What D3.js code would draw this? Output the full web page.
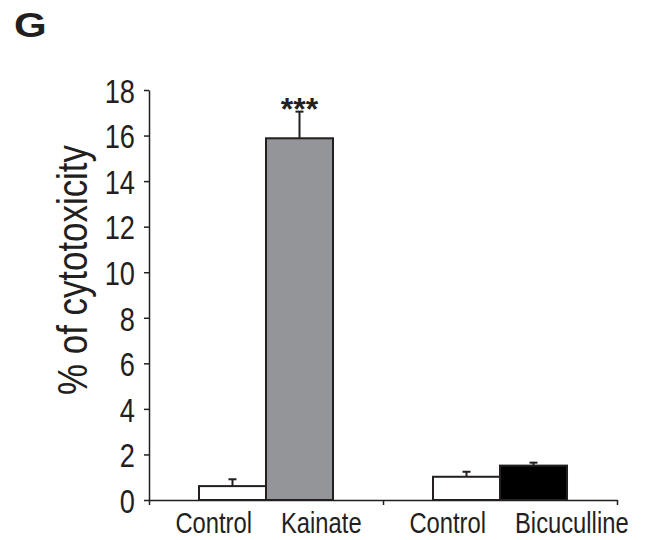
<!DOCTYPE html>
<meta charset="utf-8">
<title>Cytotoxicity</title>
<script src="https://d3js.org/d3.v7.min.js"></script>
<style>
  body { margin: 0; background: #fff; }
  svg text { fill: #231f20; font-family: "Liberation Sans", Arial, sans-serif; }
  .axis path, .axis line { stroke: #231f20; stroke-width: 1.5px; }
</style>
<body>
<div id="chart"></div>
<script>
// data
var groups = ["Kainate", "Bicuculline"];
var conditions = ["Control", "Kainate", "Control", "Bicuculline"];
var condGroup = ["Kainate", "Kainate", "Bicuculline", "Bicuculline"];
var means = [0.61, 15.88, 1.02, 1.51];
var sems = [0.30, 1.17, 0.22, 0.13];
var signif = ["", "***", "", ""];
var yTicks = [0, 2, 4, 6, 8, 10, 12, 14, 16, 18];

// no narrow face installed, so squeeze text horizontally
var narrow = 0.8;

var margin = {top: 90, right: 33, bottom: 40, left: 149},
    width = 650 - margin.left - margin.right,
    height = 540 - margin.top - margin.bottom;

var svg = d3.select("#chart").append("svg")
    .attr("width", 650)
    .attr("height", 540);

// panel letter
svg.append("text")
  .attr("transform", "translate(14,37) scale(1.2,1)")
  .style("font-weight", "bold")
  .style("font-size", "35px")
  .text("G");

var g = svg.append("g")
  .attr("transform", "translate(" + margin.left + "," + margin.top + ")");

var y = d3.scaleLinear().domain([0, 18]).range([height, 0]);

var x0 = d3.scaleBand().domain(groups).range([0, width]).padding(0);
var x1 = d3.scaleBand().domain([0, 1]).range([0, x0.bandwidth()])
  .paddingInner(0).paddingOuter(0.746);

var fillOf = d3.scaleOrdinal()
  .domain(["Control", "Kainate", "Bicuculline"])
  .range(["#ffffff", "#939598", "#000000"]);

var rows = conditions.map(function(c, i) {
  return {name: c, group: condGroup[i], slot: i % 2, mean: means[i], sem: sems[i], sig: signif[i]};
});

function barX(d) { return x0(d.group) + x1(d.slot); }
function barMid(d) { return barX(d) + x1.bandwidth() / 2; }

// y axis
var yAxis = g.append("g").attr("class", "axis")
  .call(d3.axisLeft(y).tickValues(yTicks).tickSize(5).tickSizeOuter(0).tickPadding(9));
yAxis.selectAll("text")
  .style("font-size", "34px")
  .attr("fill", null)
  .attr("dy", "0.36em")
  .attr("x", -14 / narrow)
  .attr("transform", "scale(" + narrow + ",1)");

// x axis: ticks at group boundaries
var xl = d3.scaleLinear().domain([0, groups.length]).range([0, width]);
g.append("g").attr("class", "axis")
  .attr("transform", "translate(0," + height + ")")
  .call(d3.axisBottom(xl).tickValues(d3.range(groups.length + 1))
    .tickFormat("").tickSize(5).tickSizeOuter(0));

// bars
g.selectAll("rect.bar")
  .data(rows)
  .enter().append("rect")
    .attr("class", "bar")
    .attr("x", barX)
    .attr("y", function(d) { return y(d.mean); })
    .attr("width", x1.bandwidth())
    .attr("height", function(d) { return height - y(d.mean); })
    .attr("fill", function(d) { return fillOf(d.name); })
    .attr("stroke", "#231f20")
    .attr("stroke-width", 2);

// error bars (upper only)
var err = g.selectAll("g.err")
  .data(rows)
  .enter().append("g").attr("class", "err")
  .attr("stroke", "#231f20")
  .attr("stroke-width", 2);

err.append("line")
  .attr("x1", barMid).attr("x2", barMid)
  .attr("y1", function(d) { return y(d.mean); })
  .attr("y2", function(d) { return y(d.mean + d.sem); });

err.append("line")
  .attr("x1", function(d) { return barMid(d) - 4; })
  .attr("x2", function(d) { return barMid(d) + 4; })
  .attr("y1", function(d) { return y(d.mean + d.sem); })
  .attr("y2", function(d) { return y(d.mean + d.sem); });

// significance stars
g.selectAll("text.sig")
  .data(rows.filter(function(d) { return d.sig; }))
  .enter().append("text")
    .attr("class", "sig")
    .attr("x", barMid)
    .attr("y", function(d) { return y(d.mean + d.sem) + 8; })
    .attr("text-anchor", "middle")
    .style("font-weight", "bold")
    .style("font-size", "32px")
    .text(function(d) { return d.sig; });

// category labels, either side of the group centre
g.selectAll("text.cat")
  .data(rows)
  .enter().append("text")
    .attr("class", "cat")
    .attr("transform", function(d) {
      var c = x0(d.group) + x0.bandwidth() / 2;
      var px = d.slot === 0 ? c - 14 : c + 15;
      return "translate(" + px + "," + (height + 33) + ") scale(0.82,1)";
    })
    .attr("text-anchor", function(d) { return d.slot === 0 ? "end" : "start"; })
    .style("font-size", "29px")
    .text(function(d) { return d.name; });

// y title
svg.append("text")
  .attr("transform", "translate(87,270) rotate(-90) scale(0.83,1)")
  .attr("text-anchor", "middle")
  .style("font-size", "42px")
  .text("% of cytotoxicity");
</script>
</body>
</html>
